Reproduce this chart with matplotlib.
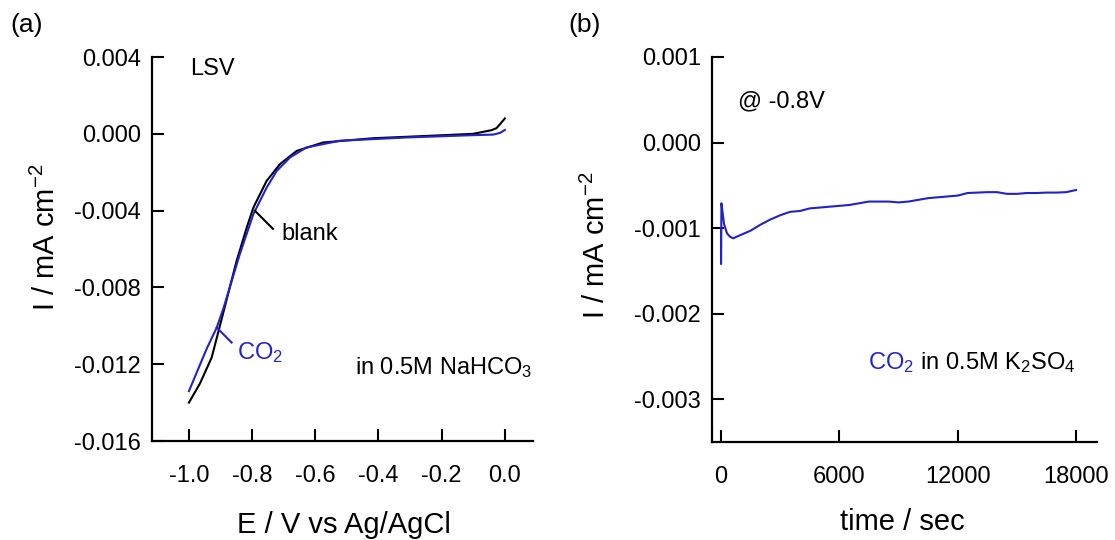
import matplotlib
matplotlib.use("Agg")
import matplotlib.pyplot as plt
from matplotlib.ticker import FormatStrFormatter

plt.rcParams['font.family'] = ['Liberation Sans', 'DejaVu Sans']
plt.rcParams['mathtext.fontset'] = 'custom'
plt.rcParams['mathtext.rm'] = 'Liberation Sans'
plt.rcParams['mathtext.it'] = 'Liberation Sans:italic'
plt.rcParams['axes.unicode_minus'] = False

blue = '#2222cc'

# (a) LSV in 0.5M NaHCO3, E in V, I in mA cm-2
E_blank = [-1.0, -0.965, -0.928, -0.891, -0.849, -0.817, -0.796, -0.754, -0.712,
           -0.659, -0.575, -0.417, -0.206, -0.10, -0.042, -0.026, 0.0]
I_blank = [-0.0140, -0.0130, -0.01165, -0.0093, -0.00661, -0.00488, -0.00384, -0.00245,
           -0.00158, -0.00089, -0.00045, -0.00023, -0.00008, 0.0, 0.00019, 0.0003, 0.0008]

E_co2 = [-1.0, -0.944, -0.912, -0.891, -0.839, -0.796, -0.754, -0.722, -0.680,
         -0.628, -0.522, -0.311, -0.100, -0.037, -0.015, 0.0]
I_co2 = [-0.0134, -0.0112, -0.01009, -0.0091, -0.00627, -0.00418, -0.0028, -0.00193,
         -0.00123, -0.00071, -0.00036, -0.00019, -0.00007, -0.00004, 0.00005, 0.0002]

# (b) chronoamperometry at -0.8 V, CO2 in 0.5M K2SO4
t_ca = [0, 0, 20, 60, 150, 300, 450, 620, 800, 1100, 1500, 2000, 2500, 3000, 3500,
        4000, 4500, 5000, 5500, 6000, 6500, 7000, 7500, 8000, 8500, 9000, 9500,
        10000, 10500, 11000, 11500, 12000, 12500, 13000, 13500, 14000, 14500,
        15000, 15500, 16000, 16500, 17000, 17500, 18000]
I_ca = [-1.00, -1.42, -0.71, -0.78, -0.95, -1.06, -1.10, -1.12, -1.10, -1.07, -1.03,
        -0.96, -0.90, -0.85, -0.81, -0.80, -0.77, -0.76, -0.75, -0.74, -0.73, -0.71,
        -0.69, -0.69, -0.69, -0.70, -0.69, -0.67, -0.65, -0.64, -0.63, -0.62, -0.59,
        -0.585, -0.58, -0.58, -0.60, -0.60, -0.59, -0.59, -0.585, -0.585, -0.58, -0.555]
I_ca = [v * 1e-3 for v in I_ca]

fig = plt.figure(figsize=(11.15, 5.4), dpi=100)
ax1 = fig.add_axes([0.1363, 0.1833, 0.3417, 0.7111])
ax2 = fig.add_axes([0.6386, 0.1815, 0.3453, 0.7130])

for ax in (ax1, ax2):
    ax.spines['top'].set_visible(False)
    ax.spines['right'].set_visible(False)
    ax.spines['left'].set_linewidth(1.6)
    ax.spines['bottom'].set_linewidth(1.6)
    ax.tick_params(direction='in', length=8.5, width=1.5, labelsize=17)
    ax.tick_params(axis='x', pad=17)
    ax.tick_params(axis='y', pad=8)

# panel a
ax1.plot(E_blank, I_blank, color='black', lw=1.5)
ax1.plot(E_co2, I_co2, color=blue, lw=1.5)
ax1.set_xlim(-1.117, 0.089)
ax1.set_ylim(-0.016, 0.004)
ax1.set_xticks([-1.0, -0.8, -0.6, -0.4, -0.2, 0.0])
ax1.set_yticks([0.004, 0.0, -0.004, -0.008, -0.012, -0.016])
ax1.xaxis.set_major_formatter(FormatStrFormatter('%.1f'))
ax1.yaxis.set_major_formatter(FormatStrFormatter('%.3f'))
ax1.set_xlabel('E / V vs Ag/AgCl', fontsize=21, va='baseline')
ax1.xaxis.set_label_coords(0.503, -0.2396)
ax1.set_ylabel('I / mA cm$^{-2}$', fontsize=21, va='center')
ax1.yaxis.set_label_coords(-0.278, 0.53)

ax1.text(-0.997, 0.00338, 'LSV', fontsize=17, va='center')
ax1.plot([-0.791, -0.734], [-0.00401, -0.00495], color='black', lw=1.5)
ax1.text(-0.706, -0.00521, 'blank', fontsize=17, va='center')
ax1.plot([-0.912, -0.865], [-0.01009, -0.01087], color=blue, lw=1.5)
ax1.text(-0.848, -0.0114, 'CO$_2$', fontsize=17, va='center', color=blue)
ax1.text(-0.475, -0.0125, 'in 0.5M NaHCO$_3$', fontsize=17, va='baseline')

# panel b
ax2.plot(t_ca, I_ca, color=blue, lw=1.5)
ax2.set_xlim(-456, 19065)
ax2.set_ylim(-0.0035, 0.001)
ax2.set_xticks([0, 6000, 12000, 18000])
ax2.set_yticks([0.001, 0.0, -0.001, -0.002, -0.003])
ax2.yaxis.set_major_formatter(FormatStrFormatter('%.3f'))
ax2.set_xlabel('time / sec', fontsize=21, va='baseline')
ax2.xaxis.set_label_coords(0.495, -0.2286)
ax2.set_ylabel('I / mA cm$^{-2}$', fontsize=21, va='center')
ax2.yaxis.set_label_coords(-0.301, 0.51)

ax2.text(862, 0.000412, '@ -0.8V', fontsize=17, va='baseline')
co2 = ax2.text(7456, -0.002647, 'CO$_2$', fontsize=17, va='baseline', color=blue)
ax2.annotate(' in 0.5M K$_2$SO$_4$', xy=(1, 0), xycoords=co2, fontsize=17,
             va='bottom', ha='left')

fig.text(10 / 1115, 1 - 25 / 540, '(a)', fontsize=19, va='center')
fig.text(568 / 1115, 1 - 25 / 540, '(b)', fontsize=19, va='center')

fig.savefig('out.png', dpi=100)
